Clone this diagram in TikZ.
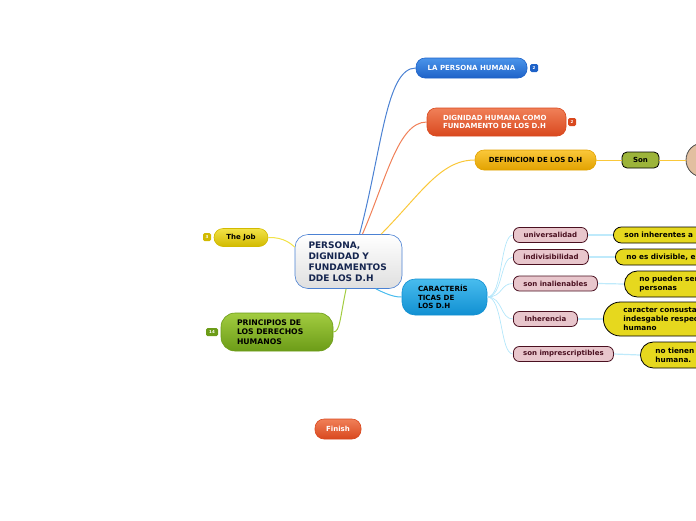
\documentclass[tikz,border=0pt]{standalone}
\usepackage{fontspec}
\setmainfont{DejaVu Sans}
\usetikzlibrary{positioning}

\definecolor{cblue}{HTML}{1E62C8}
\definecolor{cbluetop}{HTML}{4A94EA}
\definecolor{corange}{HTML}{D9481E}
\definecolor{corangetop}{HTML}{F08058}
\definecolor{cgold}{HTML}{E2A200}
\definecolor{cgoldtop}{HTML}{FAC83A}
\definecolor{ccyan}{HTML}{1190D2}
\definecolor{ccyantop}{HTML}{48BCEE}
\definecolor{cgreen}{HTML}{6C9C18}
\definecolor{cgreentop}{HTML}{A2CC40}
\definecolor{cyell}{HTML}{D2BA00}
\definecolor{cyelltop}{HTML}{F2E248}
\definecolor{cnavy}{HTML}{15254F}
\definecolor{cpink}{HTML}{E8C6CC}
\definecolor{cmaroon}{HTML}{4A1020}
\definecolor{clemon}{HTML}{E6D81E}
\definecolor{colive}{HTML}{9CB43A}
\definecolor{ctan}{HTML}{E2BFA0}

\tikzset{
  topic/.style={rounded corners=9pt, draw=#1, line width=0.6pt, inner sep=0pt,
    font=\fontsize{7}{8.8}\selectfont\bfseries, align=left},
  badge/.style={rounded corners=1.5pt, fill=#1, text=white, inner sep=0pt,
    minimum width=8pt, minimum height=8pt, font=\fontsize{4}{4}\selectfont\bfseries},
  trait/.style={rounded corners=6pt, draw=cmaroon, fill=cpink, line width=0.8pt,
    text=cmaroon, anchor=west, inner sep=0pt, minimum height=15pt,
    font=\fontsize{7}{8}\selectfont\bfseries},
  note/.style={rounded corners=#1, draw=black, fill=clemon, line width=0.8pt,
    anchor=west, inner xsep=11pt, inner ysep=0pt, align=left, text width=120pt,
    font=\fontsize{7.3}{9}\selectfont\bfseries},
  branch/.style={line width=#1},
  twig/.style={draw=cyan!30!white, line width=0.7pt}
}

\begin{document}
\begin{tikzpicture}[x=1pt, y=-1pt]
  \useasboundingbox (0,0) rectangle (696,520);
  \clip (0,0) rectangle (696,520);

  % central topic
  \node[topic=cblue!80, top color=white, bottom color=gray!25, rounded corners=13pt,
        minimum width=107pt, minimum height=54pt, text width=80pt, text=cnavy,
        font=\fontsize{9}{11}\selectfont\bfseries] (cen) at (348.5,261.5)
    {PERSONA,\\DIGNIDAD Y\\FUNDAMENTOS\\DDE LOS D.H};

  % main topics
  \node[topic=cblue, top color=cbluetop, bottom color=cblue, text=white,
        minimum width=111pt, minimum height=20pt, align=center] (per) at (471.5,68)
    {LA PERSONA HUMANA};
  \node[topic=corange, top color=corangetop, bottom color=corange, text=white,
        minimum width=139pt, minimum height=28pt, text width=107pt] (dig) at (496.5,122)
    {DIGNIDAD HUMANA COMO\\FUNDAMENTO DE LOS D.H};
  \node[topic=cgold, top color=cgoldtop, bottom color=cgold, text=black,
        minimum width=121pt, minimum height=20pt, align=center] (def) at (535.5,160)
    {DEFINICION DE LOS D.H};
  \node[topic=cyell, top color=cyelltop, bottom color=cyell, text=black,
        minimum width=54pt, minimum height=18pt, align=center] (job) at (241,237.5)
    {The Job};
  \node[topic=cgreen, top color=cgreentop, bottom color=cgreen, text=black,
        rounded corners=14pt, minimum width=112pt, minimum height=38pt, text width=80pt,
        font=\fontsize{7.7}{9.4}\selectfont\bfseries]
    (pri) at (277,332) {PRINCIPIOS DE\\LOS DERECHOS\\HUMANOS};
  \node[topic=ccyan, top color=ccyantop, bottom color=ccyan, text=black,
        rounded corners=13pt, minimum width=85pt, minimum height=36pt, text width=53pt,
        font=\fontsize{7.1}{8.6}\selectfont\bfseries]
    (car) at (444.5,297) {CARACTERÍS\\TICAS DE\\LOS D.H};
  \node[topic=corange, top color=corangetop, bottom color=corange, text=white,
        minimum width=46pt, minimum height=20pt, align=center] (fin) at (338,429)
    {Finish};

  % badges
  \node[badge=cblue] (bper) at (534,68) {2};
  \node[badge=corange] (bdig) at (572,122) {2};
  \node[badge=cyell] (bjob) at (207,237) {3};
  \node[badge=cgreen, minimum width=12pt] (bpri) at (212,332) {14};

  % definicion branch
  \node[rounded corners=5pt, draw=black, fill=colive, line width=0.8pt, inner sep=0pt,
        minimum width=37pt, minimum height=16pt,
        font=\fontsize{7}{8}\selectfont\bfseries] (son) at (640.5,160) {Son};
  \node[circle, draw=black!70, fill=ctan, line width=0.8pt, minimum size=34pt,
        inner sep=0pt] (cir) at (703,160) {};

  % characteristics
  \node[trait, minimum width=74pt] (uni) at (513,235) {universalidad};
  \node[trait, minimum width=75pt] (ind) at (513,257) {indivisibilidad};
  \node[trait, minimum width=84pt] (ina) at (513,283.5) {son inalienables};
  \node[trait, minimum width=64pt] (inh) at (513,319) {Inherencia};
  \node[trait, minimum width=100pt] (imp) at (513,354) {son imprescriptibles};

  % notes
  \node[note=8pt, minimum height=16pt] (nuni) at (613,235) {son inherentes a};
  \node[note=8pt, minimum height=16pt] (nind) at (615,257) {no es divisible, e};
  \node[note=13pt, minimum height=26pt, inner xsep=15pt] (nina) at (624,284)
    {no pueden ser\\personas};
  \node[note=17pt, minimum height=34pt, inner xsep=20pt] (ninh) at (603,319)
    {caracter consusta\\indesgable respec\\humano};
  \node[note=13pt, minimum height=26pt, inner xsep=15pt] (nimp) at (640,355)
    {no tienen\\humana.};

  % branch lines
  \draw[branch=1pt, draw=cblue!80] (cen.68) .. controls (382,150) and (386,68) .. (per.west);
  \draw[branch=1pt, draw=corangetop] (cen.63) .. controls (386,180) and (398,122) .. (dig.west);
  \draw[branch=1pt, draw=cgoldtop] (cen.40) .. controls (420,195) and (440,160) .. (def.west);
  \draw[branch=1pt, draw=cyelltop] (job.east) .. controls (285,237) and (292,245) .. (cen.165);
  \draw[branch=1pt, draw=cgreentop] (cen.265) .. controls (340,318) and (340,332) .. (pri.east);
  \draw[branch=1pt, draw=ccyantop] (cen.-45) .. controls (390,296) and (396,297) .. (car.west);
  \draw[branch=0.8pt, draw=cgoldtop] (def.east) -- (son.west);
  \draw[branch=0.8pt, draw=cgoldtop] (son.east) -- (cir.west);

  % characteristic twigs
  \foreach \t/\n in {uni/nuni, ind/nind, ina/nina, inh/ninh, imp/nimp} {
    \draw[twig] (car.east) .. controls (503,297) and (500,0 |- \t.west) .. (\t.west);
    \draw[twig, line width=1.2pt, draw=cyan!25!white] (\t.east) -- (\n.west);
  }
\end{tikzpicture}
\end{document}
